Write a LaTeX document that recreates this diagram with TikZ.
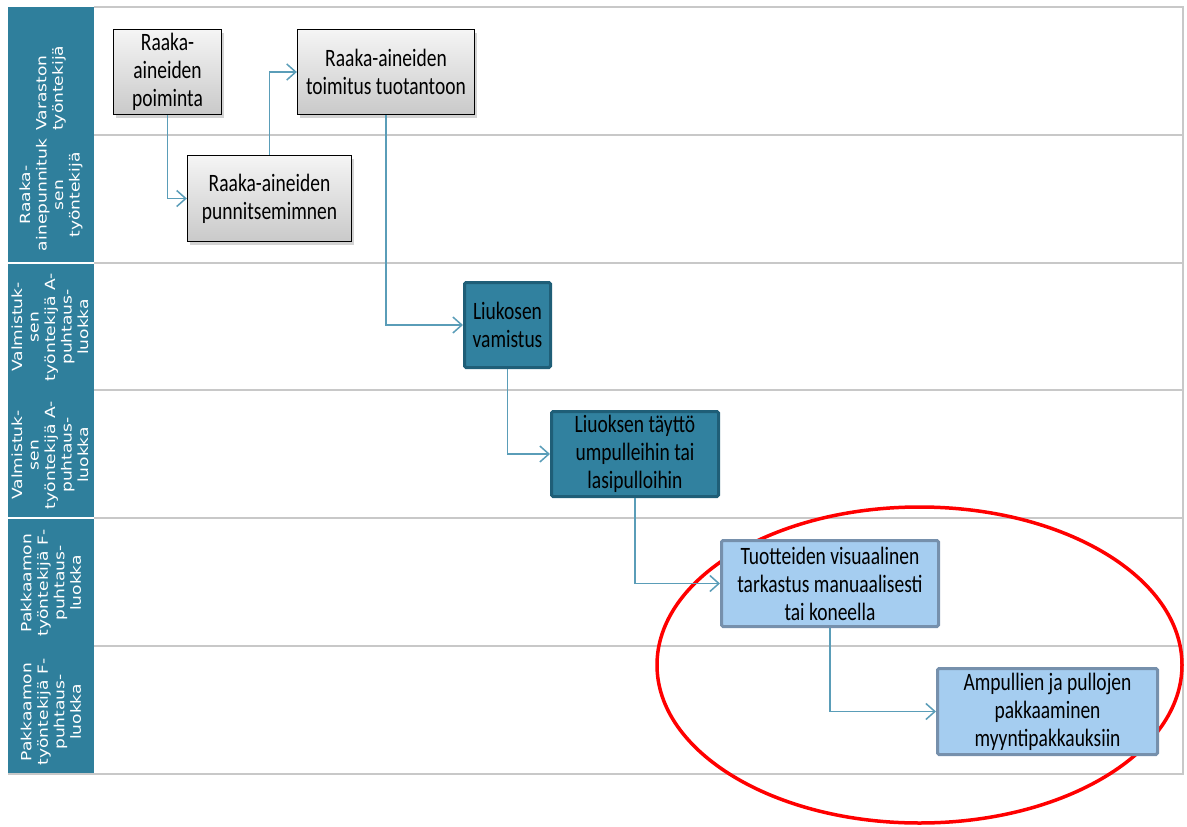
\documentclass[tikz,border=0pt]{standalone}
\usepackage{fontspec}
\setmainfont{Carlito}
\newfontfamily\boxfont[FakeStretch=0.78]{Carlito}
\newfontfamily\lanefont[FakeStretch=1.22]{DejaVu Sans}
\usepackage{xcolor}
\usetikzlibrary{arrows.meta,shadows}

\definecolor{lanegray}{HTML}{C8C8C8}
\definecolor{headteal}{HTML}{2F7F9C}
\definecolor{flowblue}{HTML}{5A9DB8}
\definecolor{tealfill}{HTML}{31819F}
\definecolor{tealedge}{HTML}{1F5E77}
\definecolor{skyfill}{HTML}{A5CDF0}
\definecolor{skyedge}{HTML}{7690AC}

\tikzset{
  task/.style={rectangle, align=center, inner sep=0pt, font=\boxfont\fontsize{25}{28}\selectfont},
  graytask/.style={task, draw=black, line width=1.3pt, top color=gray!8, bottom color=gray!42,
    drop shadow={shadow xshift=2pt, shadow yshift=-3pt, opacity=0.35}},
  tealtask/.style={task, draw=tealedge, line width=3pt, fill=tealfill, rounded corners=1.5pt},
  skytask/.style={task, draw=skyedge, line width=3pt, fill=skyfill, rounded corners=1.5pt},
  lanelabel/.style={rotate=90, text=white, align=center, inner sep=0pt,
    font=\lanefont\fontsize{14}{16.5}\selectfont},
  flow/.style={draw=flowblue, line width=1.5pt,
    -{Straight Barb[length=9pt,width=16pt,line width=1.5pt]}}
}

\begin{document}
\begin{tikzpicture}[x=1pt, y=-1pt]
  \useasboundingbox (0,0) rectangle (1187,827);
  % header column
  \fill[headteal] (8,7) rectangle (94,262);
  \fill[headteal] (8,264) rectangle (94,517);
  \fill[headteal] (8,519) rectangle (94,773);
  % swimlanes
  \draw[lanegray, line width=1.5pt] (94,7) -- (1183,7) -- (1183,774) -- (8,774);
  \foreach \y in {135,263,390,518,646}
    \draw[lanegray, line width=1.5pt] (94,\y) -- (1183,\y);
  \node[lanelabel, align=left, anchor=west] (lane1) at (51,131) {Varaston\\työntekijä};
  \node[lanelabel] (lane2) at (51,195) {Raaka-\\ainepunnituk\\sen\\työntekijä};
  \node[lanelabel] (lane3) at (50,327) {Valmistuk-\\sen\\työntekijä A-\\puhtaus-\\luokka};
  \node[lanelabel] (lane4) at (50,455) {Valmistuk-\\sen\\työntekijä A-\\puhtaus-\\luokka};
  \node[lanelabel] (lane5) at (51,583) {Pakkaamon\\työntekijä F-\\puhtaus-\\luokka};
  \node[lanelabel] (lane6) at (51,712) {Pakkaamon\\työntekijä F-\\puhtaus-\\luokka};
  % highlight
  \draw[red, line width=3.5pt] (919.5,665) ellipse [x radius=262.5, y radius=158];
  % tasks
  \node[graytask, minimum width=108, minimum height=85] (pick) at (167.5,72) {Raaka-\\aineiden\\poiminta};
  \node[graytask, minimum width=177, minimum height=85] (deliver) at (386,72) {Raaka-aineiden\\toimitus tuotantoon};
  \node[graytask, minimum width=164, minimum height=86] (weigh) at (269.5,198.5) {Raaka-aineiden\\punnitsemimnen};
  \node[tealtask, minimum width=86, minimum height=85] (mix) at (507.5,325) {Liukosen\\vamistus};
  \node[tealtask, minimum width=167, minimum height=85] (filling) at (635,454) {Liuoksen täyttö\\umpulleihin tai\\lasipulloihin};
  \node[skytask, minimum width=217, minimum height=86] (inspect) at (830,583.5) {Tuotteiden visuaalinen\\tarkastus manuaalisesti\\tai koneella};
  \node[skytask, minimum width=220, minimum height=86] (pack) at (1047.5,711.5) {Ampullien ja pullojen\\pakkaaminen\\myyntipakkauksiin};
  % flow
  \draw[flow] (pick) |- (weigh);
  \draw[flow] (weigh) |- (deliver);
  \draw[flow] (deliver) |- (mix);
  \draw[flow] (mix) |- (filling);
  \draw[flow] (filling) |- (inspect);
  \draw[flow] (inspect) |- (pack);
\end{tikzpicture}
\end{document}
